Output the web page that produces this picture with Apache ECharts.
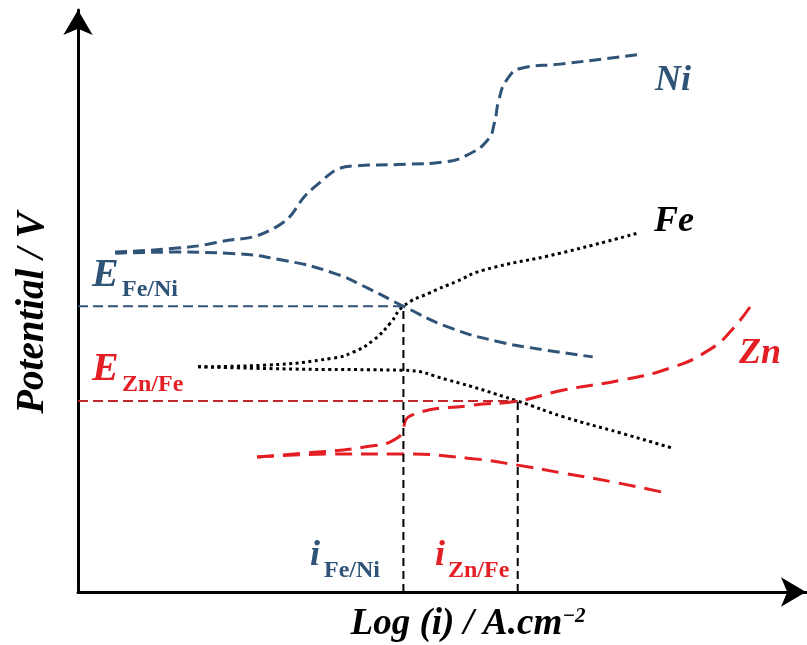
<!DOCTYPE html>
<html>
<head>
<meta charset="utf-8">
<script src="https://cdn.jsdelivr.net/npm/echarts@6/dist/echarts.min.js"></script>
<style>
  html, body { margin: 0; padding: 0; background: #ffffff; }
  #chart { width: 807px; height: 645px; }
</style>
</head>
<body>
<div id="chart"></div>
<script>
// ---- Data (schematic units: Log(i) 0..10, Potential 0..10) ----
const niAnodicX = [0.51, 1.36, 1.88, 2.72, 3.25, 3.78, 4.51, 5.03, 5.35, 5.63, 5.72, 5.78, 5.89, 6.09, 6.62, 7.68];
const niAnodicY = [5.84, 5.91, 6.00, 6.27, 6.96, 7.32, 7.35, 7.39, 7.51, 7.77, 8.06, 8.45, 8.80, 9.00, 9.07, 9.23];

const niCathodicX = [0.51, 1.31, 2.05, 2.82, 3.51, 3.98, 4.47, 5.09, 5.78, 6.41, 7.07];
const niCathodicY = [5.82, 5.84, 5.82, 5.70, 5.48, 5.22, 4.91, 4.55, 4.30, 4.16, 4.04];

const feAnodicX = [1.65, 2.60, 3.51, 3.78, 4.06, 4.29, 4.47, 4.83, 5.19, 5.57, 6.62, 7.70];
const feAnodicY = [3.87, 3.90, 4.02, 4.12, 4.33, 4.62, 4.91, 5.14, 5.33, 5.53, 5.82, 6.17];

const feCathodicX = [1.65, 2.98, 4.46, 5.09, 6.04, 6.67, 7.46, 8.17];
const feCathodicY = [3.87, 3.83, 3.81, 3.64, 3.28, 3.01, 2.73, 2.47];

const znAnodicX = [2.46, 3.14, 3.93, 4.40, 4.57, 5.43, 6.04, 6.67, 7.46, 8.14, 8.67, 8.98, 9.27];
const znAnodicY = [2.32, 2.39, 2.49, 2.66, 3.03, 3.21, 3.28, 3.47, 3.64, 3.85, 4.16, 4.50, 4.97];

const znCathodicX = [2.46, 3.51, 4.46, 5.35, 6.04, 6.67, 7.35, 8.01];
const znCathodicY = [2.32, 2.37, 2.37, 2.30, 2.18, 2.04, 1.89, 1.72];

const eFeNi = 4.91;   // mixed potential Fe/Ni
const eZnFe = 3.28;   // mixed potential Zn/Fe
const iFeNi = 4.47;   // corrosion current Fe/Ni
const iZnFe = 6.04;   // corrosion current Zn/Fe

const curveNames = ['Ni', 'Fe', 'Zn'];

// ---- Helpers ----
const zip = (xs, ys) => xs.map((x, k) => [x, ys[k]]);

const BLUE = '#2f5478';
const RED = '#e31e24';
const DARKRED = '#c0282c';
const SERIF = '"Liberation Serif", "DejaVu Serif", serif';

function curve(name, xs, ys, color, dash, width) {
  return {
    name: name, type: 'line', data: zip(xs, ys),
    smooth: 0.5, showSymbol: false, symbol: 'none',
    silent: true, animation: false,
    lineStyle: { color: color, width: width, type: dash, cap: 'butt' }
  };
}

function straight(name, pts, color, dash) {
  return {
    name: name, type: 'line', data: pts,
    showSymbol: false, symbol: 'none', silent: true, animation: false,
    lineStyle: { color: color, width: 2, type: dash }
  };
}

const series = [
  curve('Ni anodic', niAnodicX, niAnodicY, BLUE, [12, 6], 3),
  curve('Ni cathodic', niCathodicX, niCathodicY, BLUE, [12, 6], 3),
  curve('Fe anodic', feAnodicX, feAnodicY, '#000000', [3, 3.5], 3),
  curve('Fe cathodic', feCathodicX, feCathodicY, '#000000', [3, 3.5], 3),
  curve('Zn anodic', znAnodicX, znAnodicY, RED, [17, 9], 3),
  curve('Zn cathodic', znCathodicX, znCathodicY, RED, [17, 9], 3),
  straight('E Fe/Ni', [[0, eFeNi], [iFeNi, eFeNi]], BLUE, [10, 5]),
  straight('E Zn/Fe', [[0, eZnFe], [iZnFe, eZnFe]], DARKRED, [10, 5]),
  straight('i Fe/Ni', [[iFeNi, 0], [iFeNi, eFeNi]], '#000000', [8, 5]),
  straight('i Zn/Fe', [[iZnFe, 0], [iZnFe, eZnFe]], '#000000', [8, 5])
];

const chart = echarts.init(document.getElementById('chart'), null, { renderer: 'canvas' });

function txt(text, x, y, size, color, italic, align) {
  return {
    type: 'text', x: x, y: y, silent: true,
    style: {
      text: text, fill: color,
      font: (italic ? 'italic ' : '') + 'bold ' + size + 'px ' + SERIF,
      textAlign: align || 'left', textVerticalAlign: 'bottom'
    }
  };
}

chart.setOption({
  animation: false,
  backgroundColor: '#ffffff',
  grid: { left: 78, right: 1, top: 10, bottom: 53, containLabel: false, outerBoundsMode: 'none' },
  xAxis: {
    type: 'value', min: 0, max: 10,
    name: '{a|Log (i) / A.cm}{b|−2}', nameLocation: 'middle', nameGap: 14,
    nameTextStyle: {
      padding: [0, 0, 0, 52],
      rich: {
        a: { fontFamily: SERIF, fontWeight: 'bold', fontStyle: 'italic', fontSize: 37, color: '#000' },
        b: { fontFamily: SERIF, fontWeight: 'bold', fontStyle: 'italic', fontSize: 21, color: '#000', verticalAlign: 'top', padding: [0, 0, 16, 0] }
      }
    },
    axisLine: { show: true, symbol: ['none', 'arrow'], symbolSize: [22, 25], lineStyle: { color: '#000', width: 3 } },
    axisTick: { show: false }, axisLabel: { show: false }, splitLine: { show: false }
  },
  yAxis: {
    type: 'value', min: 0, max: 10,
    name: 'Potential / V', nameLocation: 'middle', nameGap: 26, nameRotate: 90,
    nameTextStyle: { fontFamily: SERIF, fontWeight: 'bold', fontStyle: 'italic', fontSize: 39, color: '#000', padding: [0, 24, 0, 0] },
    axisLine: { show: true, symbol: ['none', 'arrow'], symbolSize: [22, 25], lineStyle: { color: '#000', width: 3 } },
    axisTick: { show: false }, axisLabel: { show: false }, splitLine: { show: false }
  },
  series: series,
  graphic: [
    txt(curveNames[0], 655, 99, 36, BLUE, true),
    txt(curveNames[1], 654, 240, 36, '#000', true),
    txt(curveNames[2], 739, 372, 36, RED, true),
    txt('E', 92, 296, 40, BLUE, true),
    txt('Fe/Ni', 122, 302, 24, BLUE, false),
    txt('E', 92, 390, 40, RED, true),
    txt('Zn/Fe', 122, 397, 24, RED, false),
    txt('i', 310, 574, 36, BLUE, true),
    txt('Fe/Ni', 324, 583, 24, BLUE, false),
    txt('i', 435, 574, 36, RED, true),
    txt('Zn/Fe', 448, 583, 24, RED, false)
  ]
});
</script>
</body>
</html>
